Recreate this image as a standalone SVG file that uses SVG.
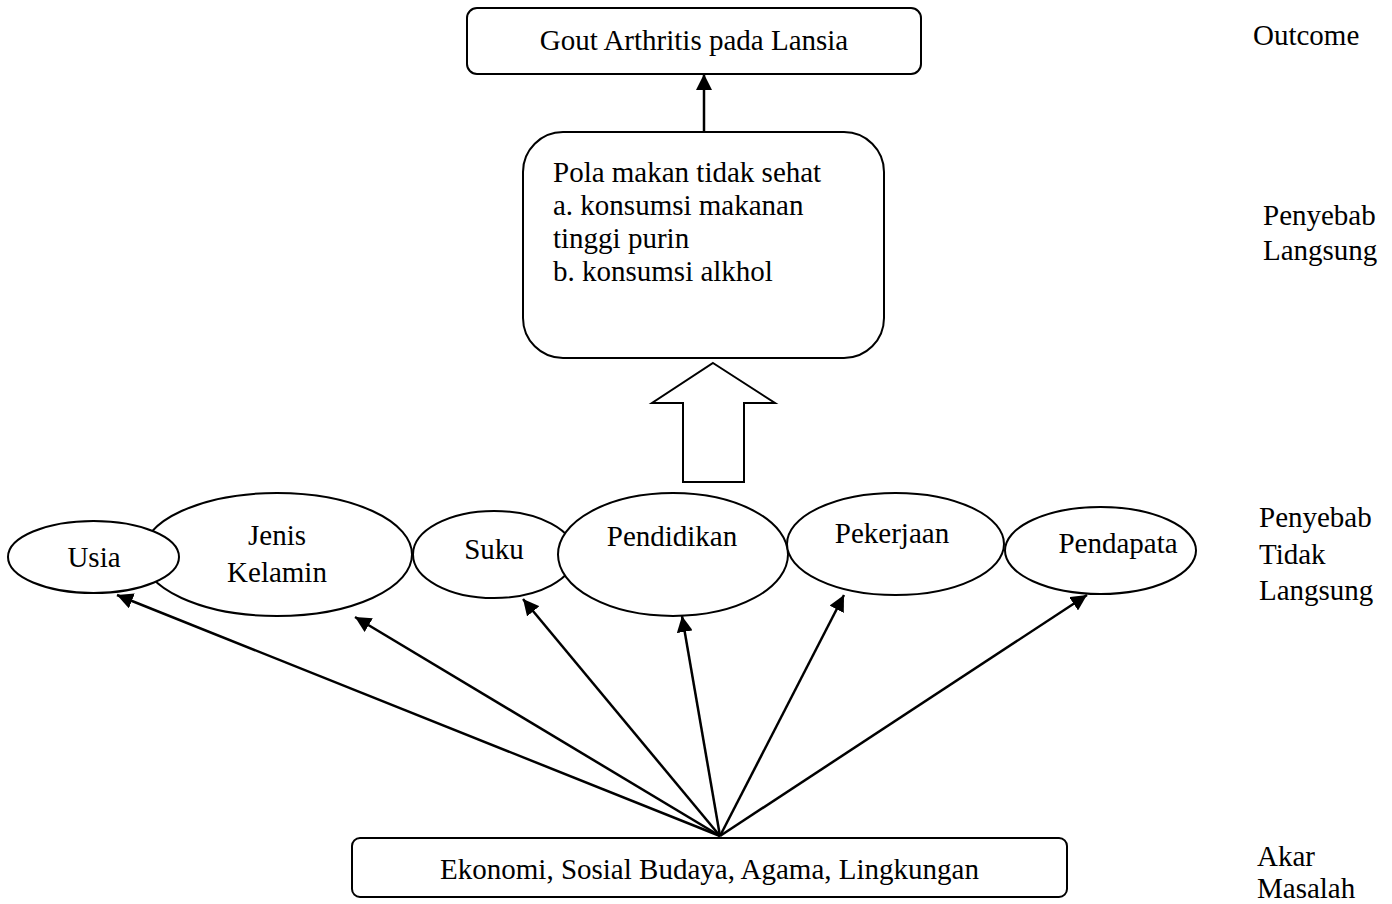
<svg xmlns="http://www.w3.org/2000/svg" width="1392" height="904" viewBox="0 0 1392 904">
<style>
  .box { fill: #fff; stroke: #000; stroke-width: 2; }
  .ell { fill: #fff; stroke: #000; stroke-width: 2; }
  .t { font-family: "Liberation Serif", "Times New Roman", serif; font-size: 29px; fill: #000; }
  .c { text-anchor: middle; }
  .conn { stroke: #000; stroke-width: 2.5; fill: none; }
</style>
<defs>
  <marker id="ah" markerUnits="userSpaceOnUse" markerWidth="18" markerHeight="16" refX="16" refY="8" orient="auto">
    <path d="M0,0 L16,8 L0,16 Z" fill="#000"/>
  </marker>
</defs>
<rect width="1392" height="904" fill="#fff"/>

<g id="gout">
  <rect class="box" x="467" y="8" width="454" height="66" rx="10"/>
  <text class="t c" x="694" y="50">Gout Arthritis pada Lansia</text>
</g>

<g id="pola">
  <rect class="box" x="523" y="132" width="361" height="226" rx="40"/>
  <text class="t" x="553" y="182">Pola makan tidak sehat</text>
  <text class="t" x="553" y="215">a. konsumsi makanan</text>
  <text class="t" x="553" y="248">tinggi purin</text>
  <text class="t" x="553" y="281">b. konsumsi alkhol</text>
</g>

<g id="jenis-kelamin">
  <ellipse class="ell" cx="277" cy="554.5" rx="135" ry="61.5"/>
  <text class="t c" x="277" y="545">Jenis</text>
  <text class="t c" x="277" y="582">Kelamin</text>
</g>
<g id="usia">
  <ellipse class="ell" cx="93.5" cy="557" rx="85.5" ry="36"/>
  <text class="t c" x="94" y="567">Usia</text>
</g>
<g id="suku">
  <ellipse class="ell" cx="494" cy="554.5" rx="81" ry="43.5"/>
  <text class="t c" x="494" y="559">Suku</text>
</g>
<g id="pendidikan">
  <ellipse class="ell" cx="673" cy="554.5" rx="115" ry="61.5"/>
  <text class="t c" x="672" y="546">Pendidikan</text>
</g>
<g id="pekerjaan">
  <ellipse class="ell" cx="895.5" cy="544" rx="108.5" ry="51"/>
  <text class="t c" x="892" y="543">Pekerjaan</text>
</g>
<g id="pendapata">
  <ellipse class="ell" cx="1100.5" cy="550.5" rx="95.5" ry="43.5"/>
  <text class="t c" x="1118" y="553">Pendapata</text>
</g>

<g id="akar">
  <rect class="box" x="352" y="838" width="715" height="59" rx="8"/>
  <text class="t c" x="709.5" y="879">Ekonomi, Sosial Budaya, Agama, Lingkungan</text>
</g>

<g id="levels">
  <text class="t" x="1253" y="45">Outcome</text>
  <text class="t" x="1263" y="225">Penyebab</text>
  <text class="t" x="1263" y="260">Langsung</text>
  <text class="t" x="1259" y="527">Penyebab</text>
  <text class="t" x="1259" y="564">Tidak</text>
  <text class="t" x="1259" y="600">Langsung</text>
  <text class="t" x="1257" y="866">Akar</text>
  <text class="t" x="1257" y="898">Masalah</text>
</g>

<g id="connectors">
  <line class="conn" x1="704" y1="132" x2="704" y2="74" marker-end="url(#ah)"/>
  <path d="M713,363 L775,403 L744,403 L744,482 L683,482 L683,403 L652,403 Z" fill="#fff" stroke="#000" stroke-width="2"/>
  <line class="conn" x1="720" y1="836" x2="117" y2="595" marker-end="url(#ah)"/>
  <line class="conn" x1="720" y1="836" x2="355" y2="617" marker-end="url(#ah)"/>
  <line class="conn" x1="720" y1="836" x2="523" y2="599" marker-end="url(#ah)"/>
  <line class="conn" x1="720" y1="836" x2="682" y2="616" marker-end="url(#ah)"/>
  <line class="conn" x1="720" y1="836" x2="844" y2="595" marker-end="url(#ah)"/>
  <line class="conn" x1="720" y1="836" x2="1087" y2="595" marker-end="url(#ah)"/>
</g>
</svg>
